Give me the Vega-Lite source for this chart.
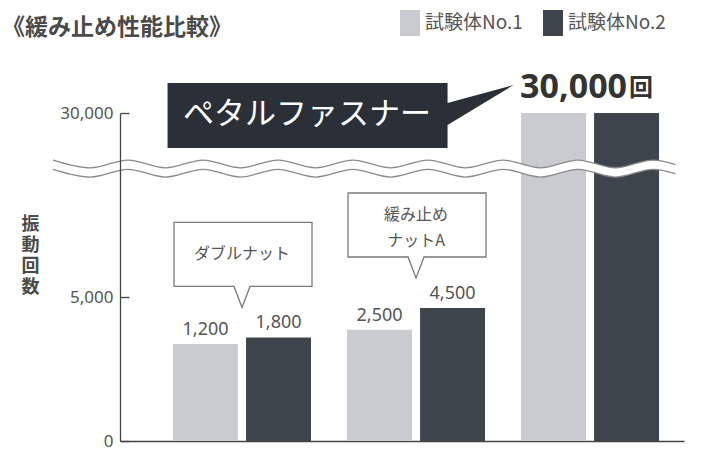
{
  "$schema": "https://vega.github.io/schema/vega-lite/v6.json",
  "autosize": "none",
  "width": 564,
  "height": 328,
  "padding": {"left": 120, "top": 113, "right": 29, "bottom": 9},
  "background": "white",
  "config": {
    "font": "Noto Sans CJK JP",
    "view": {"stroke": null}
  },
  "title": {
    "text": "《緩み止め性能比較》",
    "anchor": "start",
    "frame": "group",
    "orient": "top",
    "offset": 0,
    "dx": -118,
    "dy": 30,
    "fontSize": 23,
    "fontWeight": "bold",
    "color": "#4a4a4a"
  },
  "datasets": {
    "bars": [
      {"group": "ダブルナット", "specimen": "試験体No.1", "value": 1200},
      {"group": "ダブルナット", "specimen": "試験体No.2", "value": 1800},
      {"group": "緩み止めナットA", "specimen": "試験体No.1", "value": 2500},
      {"group": "緩み止めナットA", "specimen": "試験体No.2", "value": 4500},
      {"group": "ペタルファスナー", "specimen": "試験体No.1", "value": 30000},
      {"group": "ペタルファスナー", "specimen": "試験体No.2", "value": 30000}
    ],
    "callouts": [
      {"group": "ダブルナット", "value": 1800, "label": "ダブルナット"},
      {"group": "緩み止めナットA", "value": 4500, "label": "緩み止め\nナットA"}
    ],
    "highlight": [
      {"group": "ペタルファスナー", "value": 30000, "label": "ペタルファスナー", "unit": "回"}
    ],
    "wave": [
      {"wx": 0, "top": 23600, "bottom": 22350},
      {"wx": 1, "top": 22550, "bottom": 21300},
      {"wx": 2, "top": 23600, "bottom": 22350},
      {"wx": 3, "top": 22550, "bottom": 21300},
      {"wx": 4, "top": 23600, "bottom": 22350},
      {"wx": 5, "top": 22550, "bottom": 21300},
      {"wx": 6, "top": 23600, "bottom": 22350},
      {"wx": 7, "top": 22550, "bottom": 21300},
      {"wx": 8, "top": 23600, "bottom": 22350},
      {"wx": 9, "top": 22550, "bottom": 21300},
      {"wx": 10, "top": 23600, "bottom": 22350},
      {"wx": 11, "top": 22550, "bottom": 21300},
      {"wx": 12, "top": 23600, "bottom": 22350},
      {"wx": 13, "top": 22550, "bottom": 21300},
      {"wx": 14, "top": 23600, "bottom": 22350},
      {"wx": 15, "top": 22550, "bottom": 21300},
      {"wx": 16, "top": 23600, "bottom": 22350},
      {"wx": 16.6, "top": 23000, "bottom": 21750}
    ]
  },
  "layer": [
    {
      "layer": [
        {
          "data": {"name": "bars"},
          "mark": {"type": "bar"},
          "encoding": {
            "x": {
              "field": "group",
              "type": "nominal",
              "scale": {
                "domain": ["ダブルナット", "緩み止めナットA", "ペタルファスナー"],
                "paddingInner": 0.207,
                "paddingOuter": 0.224,
                "align": 0.68
              },
              "axis": {"labels": false, "ticks": false, "title": null, "domainColor": "#444", "domainWidth": 1.3}
            },
            "xOffset": {
              "field": "specimen",
              "type": "nominal",
              "scale": {"paddingInner": 0.11, "paddingOuter": 0}
            },
            "y": {
              "field": "value",
              "type": "quantitative",
              "scale": {"domain": [0, 1200, 4500, 5000, 30000], "range": [328, 231, 195, 184, 0], "nice": false, "zero": false},
              "axis": {
                "values": [0, 5000, 30000],
                "format": ",.0f",
                "grid": false,
                "zindex": 1,
                "domainColor": "#444",
                "domainWidth": 1.3,
                "tickColor": "#444",
                "tickSize": -9,
                "tickWidth": 1.3,
                "labelPadding": 16,
                "labelFont": "Noto Sans",
                "labelFontSize": 17,
                "labelColor": "#555",
                "title": ["振", "動", "回", "数"],
                "titleAngle": 0,
                "titleX": -90,
                "titleY": 102,
                "titleAlign": "center",
                "titleBaseline": "top",
                "titleLineHeight": 21,
                "titleFontSize": 18,
                "titleFontWeight": "bold",
                "titleColor": "#4a4a4a"
              }
            },
            "color": {
              "field": "specimen",
              "type": "nominal",
              "scale": {"domain": ["試験体No.1", "試験体No.2"], "range": ["#c9cbd0", "#3e444c"]},
              "legend": {
                "orient": "none",
                "legendX": 277,
                "legendY": -103,
                "direction": "horizontal",
                "title": null,
                "symbolType": "M-0.77,-1H0.77V1H-0.77Z",
                "symbolSize": 676,
                "symbolStrokeWidth": 0,
                "labelFontSize": 19,
                "labelColor": "#555",
                "labelOffset": 2,
                "columnPadding": 17
              }
            }
          }
        },
        {
          "data": {"name": "bars"},
          "transform": [{"filter": "datum.group !== 'ペタルファスナー'"}],
          "mark": {"type": "text", "baseline": "alphabetic", "dy": -9, "fontSize": 18, "font": "Noto Sans", "color": "#555"},
          "encoding": {
            "x": {"field": "group", "type": "nominal"},
            "xOffset": {"field": "specimen", "type": "nominal"},
            "y": {"field": "value", "type": "quantitative"},
            "text": {"field": "value", "type": "quantitative", "format": ",.0f"}
          }
        },
        {
          "data": {"name": "callouts"},
          "mark": {"type": "point", "shape": "M-0.68,-1.15H0.70V-0.51H0.08L0,-0.30L-0.08,-0.51H-0.68Z", "size": 40000, "filled": false, "fill": "white", "fillOpacity": 1, "stroke": "#7a7a7a", "strokeWidth": 1.3, "opacity": 1},
          "encoding": {
            "x": {"field": "group", "type": "nominal"},
            "y": {"field": "value", "type": "quantitative"}
          }
        },
        {
          "data": {"name": "callouts"},
          "transform": [{"filter": "datum.group === 'ダブルナット'"}],
          "mark": {"type": "text", "baseline": "middle", "dy": -83, "fontSize": 16, "color": "#555"},
          "encoding": {
            "x": {"field": "group", "type": "nominal"},
            "y": {"field": "value", "type": "quantitative"},
            "text": {"field": "label"}
          }
        },
        {
          "data": {"name": "callouts"},
          "transform": [{"filter": "datum.group === '緩み止めナットA'"}],
          "mark": {"type": "text", "lineBreak": "\n", "baseline": "middle", "dy": -93, "fontSize": 16, "lineHeight": 26, "color": "#555"},
          "encoding": {
            "x": {"field": "group", "type": "nominal"},
            "y": {"field": "value", "type": "quantitative"},
            "text": {"field": "label"}
          }
        },
        {
          "data": {"name": "highlight"},
          "mark": {"type": "point", "shape": "M-4.225,-0.30H-1.425V-0.10L-0.765,-0.28L-1.425,0.12V0.35H-4.225Z", "size": 40000, "filled": true, "color": "#2b3038", "opacity": 1, "strokeWidth": 0},
          "encoding": {
            "x": {"field": "group", "type": "nominal"},
            "y": {"field": "value", "type": "quantitative"}
          }
        },
        {
          "data": {"name": "highlight"},
          "mark": {"type": "text", "baseline": "middle", "align": "center", "dx": -283, "dy": 2, "fontSize": 31, "color": "white"},
          "encoding": {
            "x": {"field": "group", "type": "nominal"},
            "y": {"field": "value", "type": "quantitative"},
            "text": {"field": "label"}
          }
        },
        {
          "data": {"name": "highlight"},
          "mark": {"type": "text", "baseline": "alphabetic", "align": "right", "dx": 37, "dy": -15, "fontSize": 34, "fontWeight": "bold", "font": "Noto Sans", "color": "#333"},
          "encoding": {
            "x": {"field": "group", "type": "nominal"},
            "y": {"field": "value", "type": "quantitative"},
            "text": {"field": "value", "type": "quantitative", "format": ",.0f"}
          }
        },
        {
          "data": {"name": "highlight"},
          "mark": {"type": "text", "baseline": "alphabetic", "align": "left", "dx": 39, "dy": -17, "fontSize": 24, "fontWeight": "bold", "color": "#333"},
          "encoding": {
            "x": {"field": "group", "type": "nominal"},
            "y": {"field": "value", "type": "quantitative"},
            "text": {"field": "unit"}
          }
        }
      ]
    },
    {
      "data": {"name": "wave"},
      "layer": [
        {
          "mark": {"type": "area", "interpolate": "monotone", "fill": "white", "opacity": 1},
          "encoding": {
            "x": {"field": "wx", "type": "quantitative", "scale": {"domain": [0, 16], "range": [-67, 533], "nice": false, "zero": false}, "axis": null},
            "y": {"field": "top", "type": "quantitative"},
            "y2": {"field": "bottom"}
          }
        },
        {
          "mark": {"type": "line", "interpolate": "monotone", "color": "#8a8a8a", "strokeWidth": 1.3},
          "encoding": {
            "x": {"field": "wx", "type": "quantitative"},
            "y": {"field": "top", "type": "quantitative"}
          }
        },
        {
          "mark": {"type": "line", "interpolate": "monotone", "color": "#8a8a8a", "strokeWidth": 1.3},
          "encoding": {
            "x": {"field": "wx", "type": "quantitative"},
            "y": {"field": "bottom", "type": "quantitative"}
          }
        }
      ]
    }
  ],
  "resolve": {"scale": {"x": "independent"}}
}
